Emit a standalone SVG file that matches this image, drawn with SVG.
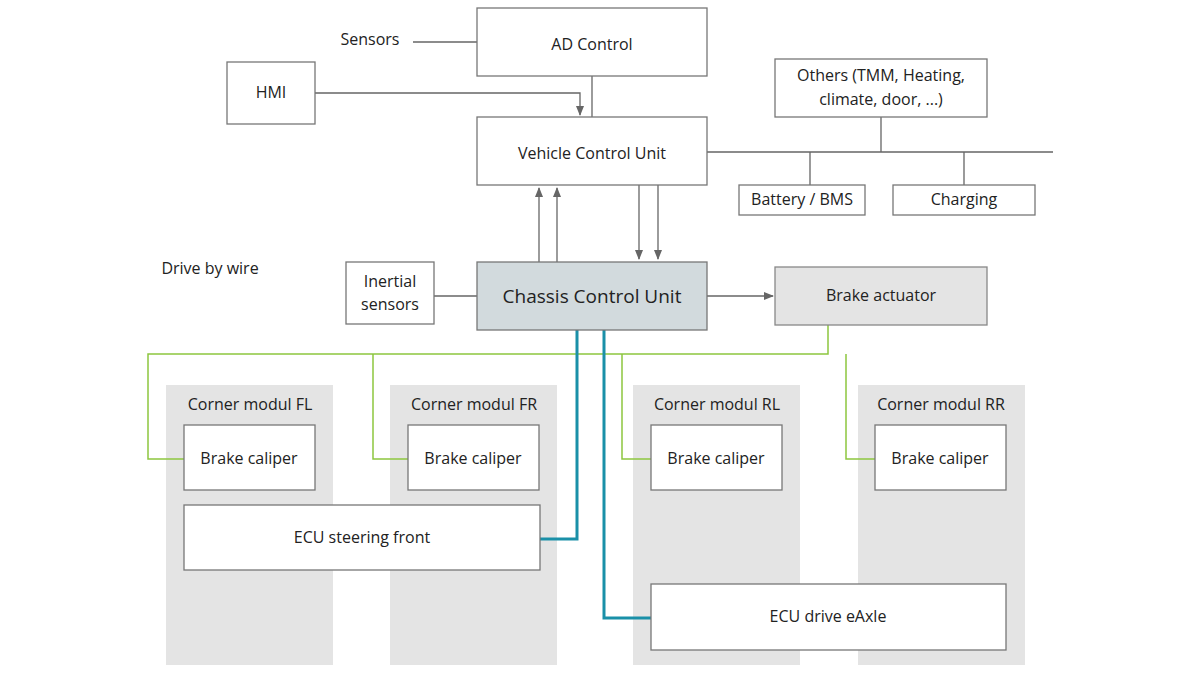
<svg xmlns="http://www.w3.org/2000/svg" width="1200" height="675" viewBox="0 0 1200 675">
<style>
text{font-family:"Open Sans","Noto Sans",sans-serif;font-size:16px;fill:#222;text-anchor:middle;dominant-baseline:middle}
.b{fill:#fff;stroke:#777;stroke-width:1.3}
.g{fill:#e4e4e4;stroke:none}
.l{stroke:#666;stroke-width:1.3;fill:none}
.gr{stroke:#8dc63f;stroke-width:1.5;fill:none}
.t{stroke:#1a90a8;stroke-width:3;fill:none}
</style>
<defs><marker id="a" markerWidth="10" markerHeight="10" refX="9" refY="5" orient="auto" markerUnits="userSpaceOnUse"><path d="M0,1 L10,5 L0,9z" fill="#666"/></marker></defs>
<rect width="1200" height="675" fill="#fff"/>
<g id="cm-fl"><rect class="g" x="166" y="385" width="167" height="280"/><text x="250" y="406">Corner modul FL</text></g>
<g id="cm-fr"><rect class="g" x="390" y="385" width="167" height="280"/><text x="474" y="406">Corner modul FR</text></g>
<g id="cm-rl"><rect class="g" x="633" y="385" width="167" height="280"/><text x="717" y="406">Corner modul RL</text></g>
<g id="cm-rr"><rect class="g" x="858" y="385" width="167" height="280"/><text x="941" y="406">Corner modul RR</text></g>
<g id="connectors">
<path class="l" d="M413,42H477"/>
<path class="l" d="M315,93H580V115" marker-end="url(#a)"/>
<path class="l" d="M592,76V117"/>
<path class="l" d="M707,152H1053M881,117V152M810,152V185M964,152V185"/>
<path class="l" d="M539,262V188" marker-end="url(#a)"/>
<path class="l" d="M557,262V188" marker-end="url(#a)"/>
<path class="l" d="M639,185V259" marker-end="url(#a)"/>
<path class="l" d="M658,185V259" marker-end="url(#a)"/>
<path class="l" d="M434,296H477"/>
<path class="l" d="M707,296H773" marker-end="url(#a)"/>
<path class="gr" d="M828,325V354H148V459H184M373,354V459H408M622,354V459H651M846,354V459H875"/>
<path class="t" d="M577,330V539H540"/>
<path class="t" d="M604,330V618H651"/>
</g>
<text x="210" y="270">Drive by wire</text>
<text x="370" y="41">Sensors</text>
<g id="ad"><rect class="b" x="477" y="8" width="230" height="68"/><text x="592" y="46">AD Control</text></g>
<g id="hmi"><rect class="b" x="227" y="62" width="88" height="62"/><text x="271" y="94">HMI</text></g>
<g id="vcu"><rect class="b" x="477" y="117" width="230" height="68"/><text x="592" y="155">Vehicle Control Unit</text></g>
<g id="others"><rect class="b" x="775" y="59" width="212" height="58"/><text x="881" y="77">Others (TMM, Heating,</text><text x="881" y="101">climate, door, ...)</text></g>
<g id="bms"><rect class="b" x="739" y="185" width="126" height="30"/><text x="802" y="201">Battery / BMS</text></g>
<g id="charging"><rect class="b" x="893" y="185" width="142" height="30"/><text x="964" y="201">Charging</text></g>
<g id="inertial"><rect class="b" x="346" y="262" width="88" height="62"/><text x="390" y="283">Inertial</text><text x="390" y="306">sensors</text></g>
<g id="ccu"><rect x="477" y="262" width="230" height="68" fill="#d2dadd" stroke="#777" stroke-width="1.3"/><text x="592" y="298" style="font-size:19px">Chassis Control Unit</text></g>
<g id="brake-act"><rect x="775" y="267" width="212" height="58" fill="#e4e4e4" stroke="#888" stroke-width="1.3"/><text x="881" y="297">Brake actuator</text></g>
<g id="bc-fl"><rect class="b" x="184" y="425" width="131" height="65"/><text x="249" y="460">Brake caliper</text></g>
<g id="bc-fr"><rect class="b" x="408" y="425" width="131" height="65"/><text x="473" y="460">Brake caliper</text></g>
<g id="bc-rl"><rect class="b" x="651" y="425" width="131" height="65"/><text x="716" y="460">Brake caliper</text></g>
<g id="bc-rr"><rect class="b" x="875" y="425" width="131" height="65"/><text x="940" y="460">Brake caliper</text></g>
<g id="ecu-steer"><rect class="b" x="184" y="505" width="356" height="65"/><text x="362" y="539">ECU steering front</text></g>
<g id="ecu-drive"><rect class="b" x="651" y="584" width="355" height="66"/><text x="828" y="618">ECU drive eAxle</text></g>
</svg>
